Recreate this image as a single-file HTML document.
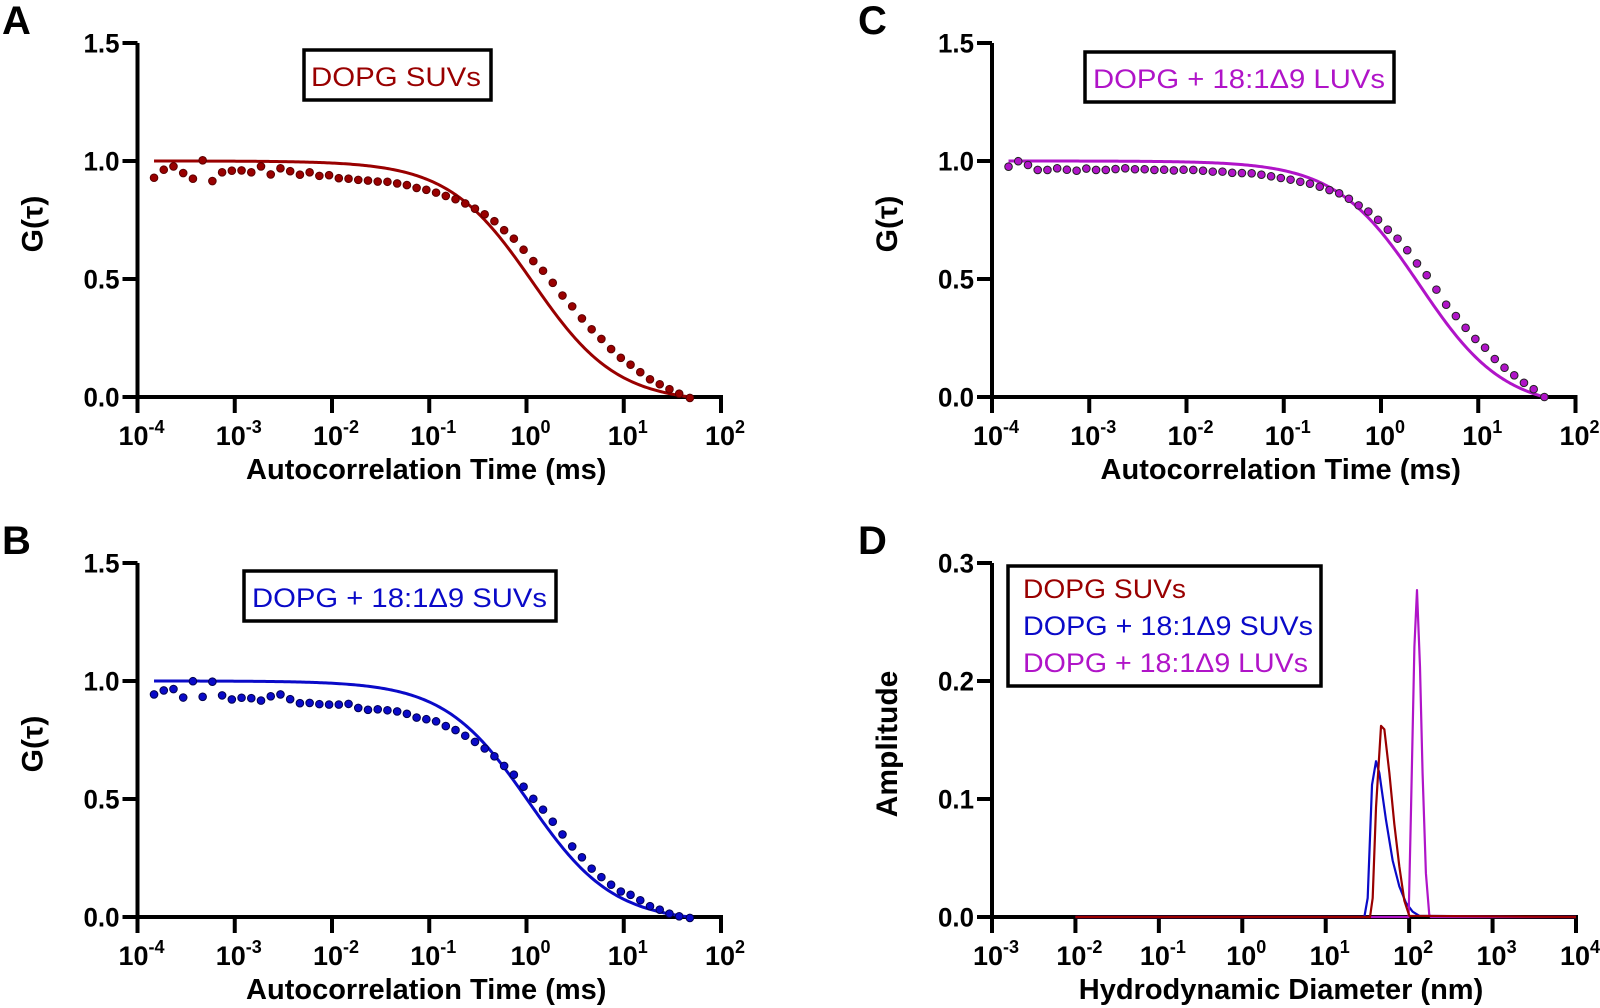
<!DOCTYPE html>
<html><head><meta charset="utf-8"><style>
html,body{margin:0;padding:0;background:#fff;}
svg{display:block;}
text{font-family:"Liberation Sans",sans-serif;}
</style></head>
<body>
<svg id="fig" width="1600" height="1008" viewBox="0 0 1600 1008" xmlns="http://www.w3.org/2000/svg"></svg>
<script>
// ---- Data ----
const logTau = [-3.83,-3.73,-3.63,-3.53,-3.43,-3.33,-3.23,-3.13,-3.03,-2.93,-2.83,-2.73,-2.63,-2.53,-2.43,-2.33,-2.23,-2.13,-2.03,-1.93,-1.83,-1.73,-1.63,-1.53,-1.43,-1.33,-1.23,-1.13,-1.03,-0.93,-0.83,-0.73,-0.63,-0.53,-0.43,-0.33,-0.23,-0.13,-0.03,0.07,0.17,0.27,0.37,0.47,0.57,0.67,0.77,0.87,0.97,1.07,1.17,1.27,1.37,1.47,1.57,1.68];
const gA = [0.929,0.963,0.977,0.949,0.925,1.003,0.915,0.952,0.959,0.960,0.952,0.977,0.943,0.969,0.957,0.942,0.952,0.937,0.940,0.927,0.925,0.920,0.917,0.913,0.912,0.905,0.898,0.886,0.878,0.866,0.852,0.838,0.820,0.798,0.774,0.745,0.707,0.671,0.624,0.576,0.535,0.484,0.430,0.384,0.333,0.287,0.246,0.203,0.166,0.137,0.105,0.075,0.054,0.033,0.014,-0.004];
const gB = [0.943,0.960,0.966,0.930,0.999,0.933,0.997,0.939,0.922,0.929,0.927,0.917,0.935,0.943,0.923,0.906,0.907,0.902,0.900,0.900,0.903,0.886,0.878,0.880,0.876,0.871,0.861,0.845,0.838,0.829,0.809,0.792,0.768,0.742,0.714,0.681,0.640,0.603,0.552,0.501,0.455,0.404,0.350,0.299,0.253,0.205,0.169,0.137,0.108,0.094,0.071,0.046,0.031,0.014,0.003,-0.004];
const gC = [0.976,0.999,0.983,0.962,0.962,0.969,0.963,0.959,0.968,0.962,0.962,0.966,0.969,0.965,0.965,0.962,0.963,0.960,0.963,0.962,0.959,0.955,0.955,0.950,0.949,0.948,0.942,0.935,0.928,0.921,0.912,0.904,0.891,0.877,0.863,0.840,0.812,0.786,0.751,0.709,0.671,0.622,0.566,0.516,0.455,0.391,0.343,0.293,0.246,0.209,0.161,0.124,0.092,0.060,0.033,0.000];
const fitTauD = [1.15, 1.05, 2.5]; // ms, fitted diffusion times for A, B, C
const xTicksFCS = [-4,-3,-2,-1,0,1,2];
const yTicksFCS = ["0.0","0.5","1.0","1.5"];
const dRedX = [-2,1.531,1.563,1.603,1.663,1.703,1.763,1.822,1.882,1.942,2.002,4];
const dRedY = [0,0,0.016,0.093,0.162,0.159,0.122,0.079,0.043,0.014,0.001,0];
const dBlueX = [-2,1.463,1.503,1.555,1.603,1.643,1.723,1.802,1.882,1.962,2.042,2.122,4];
const dBlueY = [0,0,0.016,0.112,0.132,0.122,0.082,0.048,0.026,0.012,0.0045,0.001,0];
const dMagX = [-2,1.994,2.023,2.063,2.094,2.130,2.161,2.201,2.241,2.26,4];
const dMagY = [0,0,0.093,0.229,0.277,0.212,0.122,0.037,0.002,0,0];
const xTicksD = [-3,-2,-1,0,1,2,3,4];
const yTicksD = ["0.0","0.1","0.2","0.3"];

const RED="#990000", BLUE="#0a0ac8", MAG="#b014c8";
const NS="http://www.w3.org/2000/svg";
const svg=document.getElementById('fig');
function mk(tag,attrs,parent){const e=document.createElementNS(NS,tag);for(const k in attrs)e.setAttribute(k,attrs[k]);(parent||svg).appendChild(e);return e;}

function axes(g,x0,x1,yTop,yBot,xmin,xmax,ymax,xt,yt,xtitle,ytitle){
  const sx=v=>x0+(v-xmin)/(xmax-xmin)*(x1-x0);
  const sy=v=>yBot-(v/ymax)*(yBot-yTop);
  let l=mk('line',{x1:x0,y1:yTop,x2:x0,y2:yBot+2,stroke:'#000','stroke-width':4},g);
  
  
  l=mk('line',{x1:x0-2,y1:yBot,x2:x1+2,y2:yBot,stroke:'#000','stroke-width':4},g);
  
  
  yt.forEach(s=>{const v=parseFloat(s);const y=sy(v);
    mk('line',{x1:x0-15,y1:y,x2:x0,y2:y,stroke:'#000','stroke-width':4},g);
    const t=mk('text',{x:x0-18,y:y+9.5,'text-anchor':'end','font-size':27,'font-weight':'bold',textLength:36,lengthAdjust:'spacingAndGlyphs'},g);
    t.textContent=s;
    
    
  });
  xt.forEach(v=>{const x=sx(v);
    mk('line',{x1:x,y1:yBot,x2:x,y2:yBot+16,stroke:'#000','stroke-width':4},g);
    const t=mk('text',{x:x+4,y:yBot+48,'text-anchor':'middle','font-size':27,'font-weight':'bold'},g);
    
    
    const a=document.createElementNS(NS,'tspan');a.textContent='10';t.appendChild(a);
    const b=document.createElementNS(NS,'tspan');b.setAttribute('font-size',18);b.setAttribute('dy',-12);b.textContent=String(v);t.appendChild(b);
  });
  let t=mk('text',{x:(x0+x1)/2-3,y:yBot+82,'text-anchor':'middle','font-size':29,'font-weight':'bold'},g);
  t.textContent=xtitle;
  
  
  const cy=(yTop+yBot)/2+4;
  t=mk('text',{x:0,y:0,'text-anchor':'middle','font-size':30,'font-weight':'bold',transform:`translate(${x0-95},${cy}) rotate(-90)`},g);
  t.textContent=ytitle;
  
  
  return {sx,sy};
}
function legendBox(g,x,y,w,h,lines){
  const r=mk('rect',{x:x,y:y,width:w,height:h,fill:'#fff',stroke:'#000','stroke-width':3.5},g);
  
  
  lines.forEach(L=>{const t=mk('text',{x:L.x,y:L.y,fill:L.c,'font-size':27,textLength:L.w,lengthAdjust:'spacingAndGlyphs'},g);t.textContent=L.s;
    
    });
}
function panelLetter(x,y,s){const t=mk('text',{x:x,y:y,'font-size':40,'font-weight':'bold'});t.textContent=s;
  
  }

function fcsPanel(name,x0,yTop,g0,tauD,color,dotStroke,legend){
  const g=mk('g',{});
  
  
  const yBot=yTop+354, x1=x0+583.5;
  const {sx,sy}=axes(g,x0,x1,yTop,yBot,-4,2,1.5,xTicksFCS,yTicksFCS,'Autocorrelation Time (ms)','G(\u03c4)');
  const lo=logTau[0], hi=logTau[logTau.length-1];
  const f=lt=>1/(1+Math.pow(10,lt)/tauD);
  const fmax=f(lo), fmin=f(hi);
  let d='';
  for(let i=0;i<=300;i++){const lt=lo+(hi-lo)*i/300;const v=(f(lt)-fmin)/(fmax-fmin);d+=(i?'L':'M')+sx(lt).toFixed(2)+','+sy(v).toFixed(2);}
  const p=mk('path',{d:d,fill:'none',stroke:color,'stroke-width':3},g);
  
  
  logTau.forEach((lt,i)=>{const c=mk('circle',{cx:sx(lt),cy:sy(g0[i]),r:3.8,fill:color,stroke:dotStroke,'stroke-width':1},g);
    
    });
  legendBox(g,legend.x,yTop+legend.dy,legend.w,50,[{x:legend.tx,y:yTop+legend.dy+36,c:color,s:legend.s,w:legend.tw}]);
}
fcsPanel('panel-a',137.5,43,gA,fitTauD[0],RED,'#5a0000',{x:304,dy:7,w:187,tx:311,tw:170,s:'DOPG SUVs'});
fcsPanel('panel-b',137.5,563,gB,fitTauD[1],BLUE,'#000050',{x:244,dy:8,w:312,tx:252,tw:295,s:'DOPG + 18:1\u03949 SUVs'});
fcsPanel('panel-c',992,43,gC,fitTauD[2],MAG,'#222',{x:1085,dy:9,w:309,tx:1093,tw:292,s:'DOPG + 18:1\u03949 LUVs'});

// Panel D
(function(){
  const g=mk('g',{});
  
  
  const {sx,sy}=axes(g,992,1576,563,917,-3,4,0.3,xTicksD,yTicksD,'Hydrodynamic Diameter (nm)','Amplitude');
  [[dBlueX,dBlueY,BLUE,'series-dopg-18-1-suvs'],[dMagX,dMagY,MAG,'series-dopg-18-1-luvs'],[dRedX,dRedY,RED,'series-dopg-suvs']].forEach(s=>{
    const d=s[0].map((x,i)=>(i?'L':'M')+sx(x).toFixed(2)+','+sy(s[1][i]).toFixed(2)).join('');
    const p=mk('path',{d:d,fill:'none',stroke:s[2],'stroke-width':2.2,'stroke-linejoin':'round'},g);
    
    
  });
  legendBox(g,1008,566,313,120,[
    {x:1023,y:598,c:RED,s:'DOPG SUVs',w:163},
    {x:1023,y:635,c:BLUE,s:'DOPG + 18:1\u03949 SUVs',w:290},
    {x:1023,y:672,c:MAG,s:'DOPG + 18:1\u03949 LUVs',w:285}]);
})();
panelLetter(2,34,'A');
panelLetter(2,554,'B');
panelLetter(858,34,'C');
panelLetter(858,554,'D');
</script>
</body></html>
